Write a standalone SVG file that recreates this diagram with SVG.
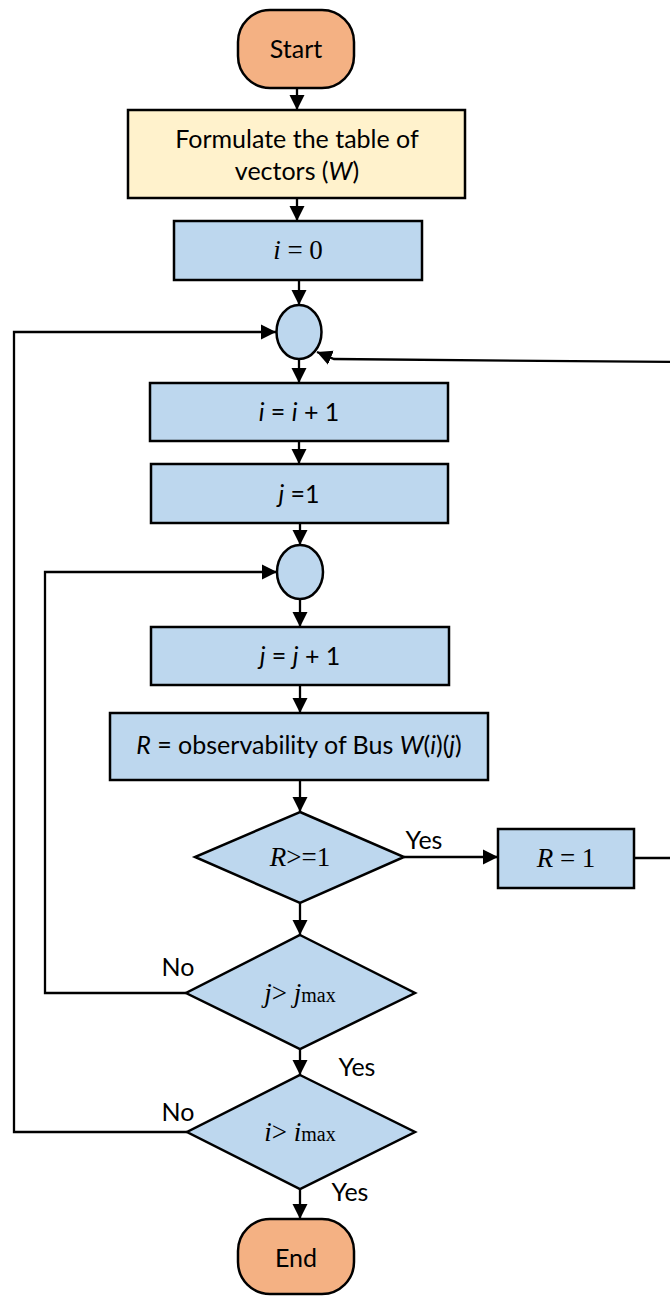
<svg xmlns="http://www.w3.org/2000/svg" width="670" height="1296" viewBox="0 0 670 1296">
  <defs>
    <marker id="arrow" markerUnits="userSpaceOnUse" markerWidth="16" markerHeight="16" refX="15" refY="8" orient="auto">
      <path d="M0,0.5 L15,8 L0,15.5 Z" fill="#000"/>
    </marker>
    <style>
      .term { fill: #F4B183; stroke: #000; stroke-width: 2.5; }
      .note { fill: #FFF2CC; stroke: #000; stroke-width: 2.5; }
      .proc { fill: #BDD7EE; stroke: #000; stroke-width: 2.5; }
      .link { fill: none; stroke: #000; stroke-width: 2.3; marker-end: url(#arrow); }
      .sans { font-family: Lato, "Open Sans", "Liberation Sans", sans-serif; font-size: 25px; fill: #000; text-anchor: middle; }
      .math { font-family: "Liberation Serif", "Times New Roman", serif; font-size: 27px; fill: #000; text-anchor: middle; }
      .lbl { font-family: Lato, "Open Sans", "Liberation Sans", sans-serif; font-size: 25px; fill: #000; text-anchor: middle; }
    </style>
  </defs>

  <!-- connectors -->
  <g id="connectors">
    <line class="link" x1="297" y1="88" x2="297" y2="110"/>
    <line class="link" x1="297" y1="198" x2="297" y2="221"/>
    <line class="link" x1="299" y1="280" x2="299" y2="305"/>
    <line class="link" x1="299" y1="359" x2="299" y2="383"/>
    <line class="link" x1="299" y1="441" x2="299" y2="464"/>
    <line class="link" x1="300" y1="523" x2="300" y2="545"/>
    <line class="link" x1="300" y1="599" x2="300" y2="627"/>
    <line class="link" x1="300" y1="685" x2="300" y2="713"/>
    <line class="link" x1="300" y1="780" x2="300" y2="812"/>
    <line class="link" x1="300" y1="903" x2="300" y2="935"/>
    <line class="link" x1="300" y1="1049" x2="300" y2="1075"/>
    <line class="link" x1="300" y1="1189" x2="300" y2="1219"/>
    <!-- Yes branch to R = 1 -->
    <line class="link" x1="404" y1="857" x2="498" y2="857"/>
    <!-- R = 1 back to the outer junction -->
    <path class="link" d="M634,858 H673 V362 L334,359 L317,352"/>
    <!-- j loop -->
    <path class="link" d="M186,993 H45 V572 H277"/>
    <!-- i loop -->
    <path class="link" d="M187,1132 H14 V332 H276"/>
  </g>

  <g id="start">
    <rect class="term" x="238" y="10" width="116" height="78" rx="32" ry="32"/>
    <text class="sans" x="296" y="58">Start</text>
  </g>

  <g id="formulate">
    <rect class="note" x="128" y="110" width="337" height="88"/>
    <text class="sans" x="297" y="148">Formulate the table of</text>
    <text class="sans" x="297" y="180">vectors (<tspan font-style="italic">W</tspan>)</text>
  </g>

  <g id="init-i">
    <rect class="proc" x="174" y="221" width="248" height="59"/>
    <text class="math" x="298" y="259"><tspan font-style="italic">i</tspan> = 0</text>
  </g>

  <g id="junction-i">
    <ellipse class="proc" cx="299" cy="332" rx="22.5" ry="27"/>
  </g>

  <g id="inc-i">
    <rect class="proc" x="150" y="383" width="298" height="58"/>
    <text class="sans" x="299" y="421"><tspan font-style="italic">i</tspan> = <tspan font-style="italic">i</tspan> + 1</text>
  </g>

  <g id="init-j">
    <rect class="proc" x="151" y="464" width="297" height="59"/>
    <text class="sans" x="299" y="503"><tspan font-style="italic">j</tspan> =1</text>
  </g>

  <g id="junction-j">
    <ellipse class="proc" cx="300" cy="572" rx="23" ry="27"/>
  </g>

  <g id="inc-j">
    <rect class="proc" x="151" y="627" width="298" height="58"/>
    <text class="sans" x="300" y="665"><tspan font-style="italic">j</tspan> = <tspan font-style="italic">j</tspan> + 1</text>
  </g>

  <g id="observe">
    <rect class="proc" x="110" y="713" width="378" height="67"/>
    <text class="sans" x="299" y="754"><tspan font-style="italic">R</tspan> = observability of Bus <tspan font-style="italic">W</tspan>(<tspan font-style="italic">i</tspan>)(<tspan font-style="italic">j</tspan>)</text>
  </g>

  <g id="test-r">
    <polygon class="proc" points="300,812 404,857 300,903 195,857"/>
    <text class="math" x="300" y="866"><tspan font-style="italic">R</tspan>&gt;=1</text>
    <text class="lbl" x="424" y="849">Yes</text>
  </g>

  <g id="set-r">
    <rect class="proc" x="498" y="829" width="136" height="59"/>
    <text class="math" x="566" y="867"><tspan font-style="italic">R</tspan> = 1</text>
  </g>

  <g id="test-j">
    <polygon class="proc" points="300,935 415,993 300,1049 186,993"/>
    <text class="math" x="300" y="1002"><tspan font-style="italic">j</tspan>&gt; <tspan font-style="italic">j</tspan><tspan font-size="20">max</tspan></text>
    <text class="lbl" x="178" y="976">No</text>
    <text class="lbl" x="357" y="1076">Yes</text>
  </g>

  <g id="test-i">
    <polygon class="proc" points="300,1075 415,1132 300,1189 187,1132"/>
    <text class="math" x="300" y="1141"><tspan font-style="italic">i</tspan>&gt; <tspan font-style="italic">i</tspan><tspan font-size="20">max</tspan></text>
    <text class="lbl" x="178" y="1121">No</text>
    <text class="lbl" x="350" y="1201">Yes</text>
  </g>

  <g id="end">
    <rect class="term" x="238" y="1219" width="116" height="75" rx="32" ry="32"/>
    <text class="sans" x="296" y="1267">End</text>
  </g>
</svg>
